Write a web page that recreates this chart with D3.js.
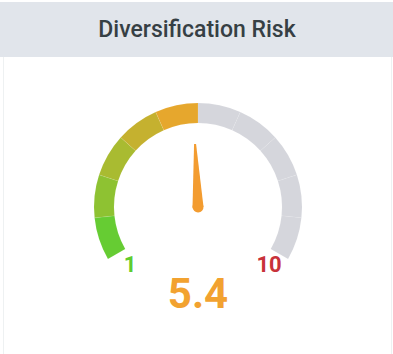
<!DOCTYPE html>
<html>
<head>
<meta charset="utf-8">
<script src="https://cdn.jsdelivr.net/npm/d3@7"></script>
<style>
  body { margin: 0; background: #fff; }
  svg { display: block; font-family: Roboto, "Open Sans", sans-serif; }
</style>
</head>
<body>
<div id="chart"></div>
<script>
// gauge data
var title = "Diversification Risk";
var minValue = 1;
var maxValue = 10;
var value = 5.4;
var bandColors = ["#66cc33", "#8ec232", "#a9bb31", "#c5b12f", "#e6a72d",
                  "#d5d6dc", "#d5d6dc", "#d5d6dc", "#d5d6dc", "#d5d6dc"];

function init() {
  var w = 393;
  var h = 354;
  var cx = 198, cy = 207;
  var outerR = 104, innerR = 84;
  var startA = -120 * Math.PI / 180, endA = 120 * Math.PI / 180;

  var svg = d3.select("#chart").append("svg")
    .attr("width", w)
    .attr("height", h);

  // card
  svg.append("rect")
    .attr("x", 3.5).attr("y", 55.5)
    .attr("width", 388).attr("height", 300)
    .attr("fill", "#fff")
    .attr("stroke", "#eef1f2");

  // header
  svg.append("rect")
    .attr("x", 0).attr("y", 2)
    .attr("width", w).attr("height", 55)
    .attr("fill", "#e1e5eb");

  svg.append("text")
    .attr("x", 197).attr("y", 37)
    .attr("text-anchor", "middle")
    .attr("font-size", "23px")
    .attr("font-weight", 500)
    .attr("fill", "#363f44")
    .text(title);

  var angle = d3.scaleLinear()
    .domain([minValue, maxValue])
    .range([startA, endA]);

  var step = (maxValue - minValue) / bandColors.length;
  var bands = bandColors.map(function (c, i) {
    return { from: minValue + i * step, to: minValue + (i + 1) * step, color: c };
  });

  var arc = d3.arc()
    .innerRadius(innerR)
    .outerRadius(outerR)
    .startAngle(function (d) { return angle(d.from); })
    .endAngle(function (d) { return angle(d.to); });

  var g = svg.append("g").attr("transform", "translate(" + cx + "," + cy + ")");

  g.selectAll("path.band")
    .data(bands)
    .enter()
    .append("path")
    .attr("class", "band")
    .attr("d", arc)
    .attr("fill", function (d) { return d.color; })
    .attr("stroke", "#fff")
    .attr("stroke-opacity", 0.15)
    .attr("stroke-width", 0.5);

  // needle
  var needleLen = 63;
  var a = angle(value) * 180 / Math.PI;
  var needle = g.append("g").attr("transform", "rotate(" + a + ")");
  needle.append("path")
    .attr("d", "M-5.5,0 L-1,-" + needleLen + " L1,-" + needleLen + " L5.5,0 Z")
    .attr("fill", "#f39c30");
  needle.append("circle")
    .attr("r", 5.5)
    .attr("fill", "#f39c30");

  // min / max labels
  svg.append("text")
    .attr("x", 130).attr("y", 272)
    .attr("text-anchor", "middle")
    .attr("font-size", "22px")
    .attr("font-weight", 700)
    .attr("fill", "#5fcc2e")
    .text(minValue);

  svg.append("text")
    .attr("x", 269).attr("y", 272)
    .attr("text-anchor", "middle")
    .attr("font-size", "22px")
    .attr("font-weight", 700)
    .attr("fill", "#c8323a")
    .text(maxValue);

  // value
  svg.append("text")
    .attr("x", 198).attr("y", 308)
    .attr("text-anchor", "middle")
    .attr("font-size", "42px")
    .attr("font-weight", 700)
    .attr("fill", "#f2a230")
    .text(value.toFixed(1));
}

window.onload = init;
</script>
</body>
</html>
